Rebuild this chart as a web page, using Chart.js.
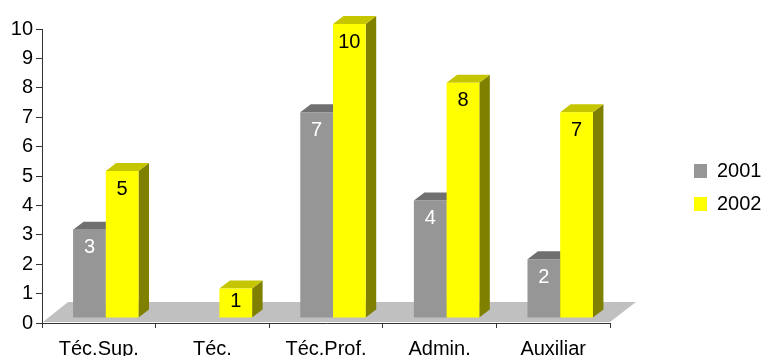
<!DOCTYPE html>
<html>
<head>
<meta charset="utf-8">
<script src="https://cdn.jsdelivr.net/npm/chart.js@4.4.1/dist/chart.umd.min.js"></script>
<style>
  html, body { margin: 0; padding: 0; background: #fff; }
  #wrap { width: 761px; height: 356px; }
</style>
</head>
<body>
<div id="wrap"><canvas id="chart"></canvas></div>
<script>
const categorias = ['Téc.Sup.', 'Téc.', 'Téc.Prof.', 'Admin.', 'Auxiliar'];
const series = ['2001', '2002'];
const valores2001 = [3, 0, 7, 4, 2];
const valores2002 = [5, 1, 10, 8, 7];

// colores de cada serie: frente, techo, lateral, texto
const estilos = [
  { frente: '#969696', techo: '#707070', lado: '#4b4b4b', texto: '#ffffff' },
  { frente: '#ffff00', techo: '#c6c600', lado: '#808000', texto: '#000000' }
];

const FUENTE = { family: "'Liberation Sans', Arial, sans-serif", size: 20 };
const PROF = { dx: 10.5, dy: -8 };   // fondo de la barra
const DESP = { dx: 7, dy: -5 };      // barra metida en el suelo
const SUELO = { dx: 26, dy: -20 };

function _poly(ctx, color, pts) {
  ctx.fillStyle = color;
  ctx.beginPath();
  pts.forEach((p, i) => i ? ctx.lineTo(p[0], p[1]) : ctx.moveTo(p[0], p[1]));
  ctx.closePath();
  ctx.fill();
}

const barras3d = {
  id: 'barras3d',
  beforeDatasetsDraw(chart) {
    const { ctx, chartArea: a } = chart;
    ctx.save();
    // suelo
    const yb = a.bottom - 1;
    _poly(ctx, '#c0c0c0', [[a.left + 1, yb], [a.right, yb],
      [a.right + SUELO.dx, yb + SUELO.dy], [a.left + SUELO.dx, yb + SUELO.dy]]);

    const metas = chart.getSortedVisibleDatasetMetas();
    for (let i = 0; i < chart.data.labels.length; i++) {
      metas.forEach(meta => {
        const el = meta.data[i];
        const v = chart.data.datasets[meta.index].data[i];
        if (!el || !v) return;
        const st = estilos[meta.index];
        const x0 = el.x - el.width / 2 + DESP.dx, x1 = el.x + el.width / 2 + DESP.dx;
        const y0 = el.y + DESP.dy, y1 = el.base + DESP.dy;
        _poly(ctx, st.lado, [[x1, y1], [x1 + PROF.dx, y1 + PROF.dy], [x1 + PROF.dx, y0 + PROF.dy], [x1, y0]]);
        _poly(ctx, st.techo, [[x0, y0], [x1, y0], [x1 + PROF.dx, y0 + PROF.dy], [x0 + PROF.dx, y0 + PROF.dy]]);
        ctx.fillStyle = st.frente;
        ctx.fillRect(x0, y0, x1 - x0, y1 - y0);
        // etiqueta de valor
        ctx.fillStyle = st.texto;
        ctx.font = `${FUENTE.size}px ${FUENTE.family}`;
        ctx.textAlign = 'center';
        ctx.textBaseline = 'middle';
        const off = Math.min(18, (y1 - y0) / 2 - 2);
        ctx.fillText(String(v), (x0 + x1) / 2, y0 + off);
      });
    }
    ctx.restore();
    return false;
  }
};

new Chart(document.getElementById('chart').getContext('2d'), {
  type: 'bar',
  data: {
    labels: categorias,
    datasets: [
      { label: series[0], data: valores2001, backgroundColor: estilos[0].frente, borderWidth: 0 },
      { label: series[1], data: valores2002, backgroundColor: estilos[1].frente, borderWidth: 0 }
    ]
  },
  options: {
    responsive: true,
    maintainAspectRatio: false,
    animation: false,
    categoryPercentage: 0.576,
    barPercentage: 1,
    layout: { padding: { top: 29, left: 0, right: 0, bottom: 0 } },
    scales: {
      x: {
        offset: true,
        grid: { offset: true, drawOnChartArea: false, drawTicks: true, tickLength: 5, color: '#333' },
        border: { display: true, color: '#333', width: 1 },
        ticks: { color: '#000', font: FUENTE, padding: 9, maxRotation: 0, autoSkip: false },
        afterFit(s) { s.height = 33; }
      },
      y: {
        min: 0,
        max: 10,
        grid: { drawOnChartArea: false, drawTicks: true, tickLength: 6, color: '#333' },
        border: { display: true, color: '#333', width: 1 },
        ticks: { stepSize: 1, color: '#000', font: FUENTE, padding: 3 },
        afterFit(s) { s.width = 42; }
      },
      hueco: {
        position: 'right',
        display: true,
        grid: { display: false },
        border: { display: false },
        ticks: { display: false },
        afterFit(s) { s.width = 71; }
      }
    },
    plugins: {
      tooltip: { enabled: false },
      legend: {
        position: 'right',
        fullSize: false,
        maxWidth: 80,
        title: { display: true, text: '', font: { size: 10 }, padding: { top: 0, bottom: 11 } },
        labels: { boxWidth: 13, boxHeight: 14, padding: 13, color: '#000', font: FUENTE }
      }
    }
  },
  plugins: [barras3d]
});
</script>
</body>
</html>
